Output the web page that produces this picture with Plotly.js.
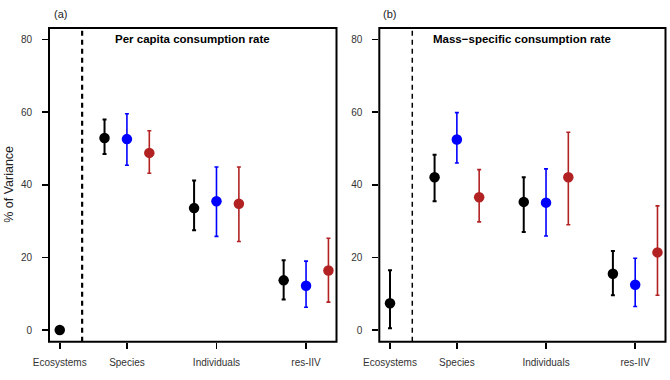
<!DOCTYPE html>
<html>
<head>
<meta charset="utf-8">
<script src="https://cdn.plot.ly/plotly-3.0.1.min.js"></script>
<style>html,body{margin:0;padding:0;background:#fff;}#chart{width:670px;height:380px;}</style>
</head>
<body>
<div id="chart"></div>
<script>
// Categories and tick positions
const categories = ["Ecosystems", "Species", "Individuals", "res-IIV"];
const tickPos = [1.25, 2, 3, 4];
const yTicks = [0, 20, 40, 60, 80];
const panelTitles = ["Per capita consumption rate", "Mass\u2212specific consumption rate"];
const panelLabels = ["(a)", "(b)"];

// Panel (a): per capita consumption rate (% of variance)
const aBlackVal = [0, 52.9, 33.6, 13.7];
const aBlackLo  = [0, 48.5, 27.5, 8.4];
const aBlackHi  = [0, 58.0, 41.2, 19.2];
const aBlueVal  = [52.6, 35.5, 12.2];
const aBlueLo   = [45.4, 25.8, 6.3];
const aBlueHi   = [59.6, 44.9, 19.0];
const aRedVal   = [48.8, 34.8, 16.4];
const aRedLo    = [43.2, 24.4, 7.7];
const aRedHi    = [54.9, 44.9, 25.3];

// Panel (b): mass-specific consumption rate (% of variance)
const bBlackVal = [7.4, 42.1, 35.3, 15.5];
const bBlackLo  = [0.5, 35.5, 27.0, 9.6];
const bBlackHi  = [16.5, 48.3, 42.1, 21.8];
const bBlueVal  = [52.5, 35.1, 12.5];
const bBlueLo   = [46.0, 25.9, 6.5];
const bBlueHi   = [59.9, 44.4, 19.8];
const bRedVal   = [36.6, 42.1, 21.4];
const bRedLo    = [29.8, 29.0, 9.6];
const bRedHi    = [44.2, 54.5, 34.2];

const off = 0.25;
const blackX = [tickPos[0], tickPos[1] - off, tickPos[2] - off, tickPos[3] - off];
const blueX = tickPos.slice(1);
const redX = tickPos.slice(1).map(v => v + off);

const colBlack = "#000000", colBlue = "#0000FF", colRed = "#B22222";

function tr(x, val, lo, hi, color, lw, xa, ya) {
  return {
    type: "scatter", mode: "markers", x: x, y: val, xaxis: xa, yaxis: ya,
    marker: {color: color, size: 10.5},
    error_y: {type: "data", symmetric: false,
      array: hi.map((h, i) => h - val[i]),
      arrayminus: lo.map((l, i) => val[i] - l),
      color: color, thickness: lw, width: 2},
    showlegend: false, hoverinfo: "skip"
  };
}

const data = [
  tr(blackX, aBlackVal, aBlackLo, aBlackHi, colBlack, 2, "x", "y"),
  tr(blueX, aBlueVal, aBlueLo, aBlueHi, colBlue, 1.6, "x", "y"),
  tr(redX, aRedVal, aRedLo, aRedHi, colRed, 1.6, "x", "y"),
  tr(blackX, bBlackVal, bBlackLo, bBlackHi, colBlack, 2, "x2", "y2"),
  tr(blueX, bBlueVal, bBlueLo, bBlueHi, colBlue, 1.6, "x2", "y2"),
  tr(redX, bRedVal, bRedLo, bRedHi, colRed, 1.6, "x2", "y2")
];

const W = 670, H = 380;
const fontFam = "Liberation Sans, Arial, sans-serif";
const tickFont = {family: fontFam, size: 10, color: "#333"};
const yDom = [1 - 341.7 / H, 1 - 28 / H];

function xAxis(dom, anchor) {
  return {domain: dom, anchor: anchor, range: [1.13, 4.34], showgrid: false, zeroline: false,
    showline: false, tickmode: "array", tickvals: tickPos, ticktext: categories,
    ticks: "outside", ticklen: 6, tickwidth: 1.5, tickcolor: "#000",
    tickfont: tickFont, ticklabelstandoff: 5, fixedrange: true};
}
function yAxis(anchor) {
  return {domain: yDom, anchor: anchor, range: [-3.2, 83.2], showgrid: false, zeroline: false,
    showline: false, tickmode: "array", tickvals: yTicks,
    ticks: "outside", ticklen: 6, tickwidth: 1.5, tickcolor: "#000",
    tickfont: tickFont, ticklabelstandoff: 8, fixedrange: true};
}

const shapes = [];
const annotations = [];
[["x", "y"], ["x2", "y2"]].forEach(([xa, ya], i) => {
  shapes.push({type: "rect", xref: xa + " domain", yref: ya + " domain", x0: 0, x1: 1, y0: 0, y1: 1,
    line: {color: "#000", width: 2}});
  shapes.push({type: "line", xref: xa, yref: ya + " domain", x0: 1.5, x1: 1.5, y0: 0, y1: 1,
    line: {color: "#000", width: i === 0 ? 2.2 : 1.5, dash: "5px,4px"}});
  annotations.push({xref: xa + " domain", yref: "paper", x: 0.5, y: 1 - 39.3 / H,
    xanchor: "center", yanchor: "middle", showarrow: false, text: "<b>" + panelTitles[i] + "</b>",
    font: {family: fontFam, size: 11.5, color: "#000"}});
});
annotations.push({xref: "paper", yref: "paper", x: 60.5 / W, y: 1 - 14.5 / H, xanchor: "center", yanchor: "middle",
  showarrow: false, text: panelLabels[0], font: {family: fontFam, size: 11, color: "#222"}});
annotations.push({xref: "paper", yref: "paper", x: 389 / W, y: 1 - 14.5 / H, xanchor: "center", yanchor: "middle",
  showarrow: false, text: panelLabels[1], font: {family: fontFam, size: 11, color: "#222"}});
annotations.push({xref: "paper", yref: "paper", x: 9 / W, y: (yDom[0] + yDom[1]) / 2, xanchor: "center", yanchor: "middle",
  showarrow: false, text: "% of Variance", textangle: -90, font: {family: fontFam, size: 12.5, color: "#222"}});

const layout = {
  width: W, height: H, margin: {l: 0, r: 0, t: 0, b: 0},
  paper_bgcolor: "#fff", plot_bgcolor: "#fff",
  xaxis: xAxis([49 / W, 336.5 / W], "y"),
  yaxis: yAxis("x"),
  xaxis2: xAxis([379.3 / W, 665.5 / W], "y2"),
  yaxis2: yAxis("x2"),
  shapes: shapes, annotations: annotations, showlegend: false
};

Plotly.newPlot("chart", data, layout, {displayModeBar: false, staticPlot: true});
</script>
</body>
</html>
